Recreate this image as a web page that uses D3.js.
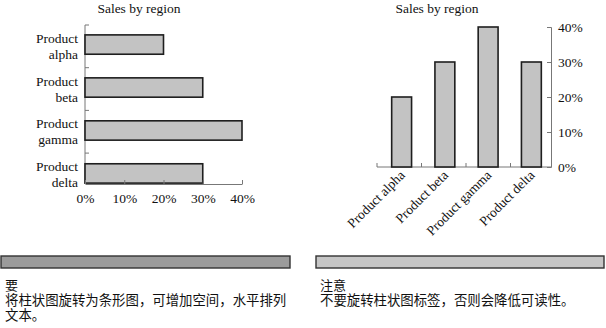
<!DOCTYPE html>
<html>
<head>
<meta charset="utf-8">
<script src="https://cdn.jsdelivr.net/npm/d3@7"></script>
<style>
  body { margin: 0; background: #fff; }
  svg text { font-family: "Liberation Serif", "Times New Roman", serif; fill: #111; }
  svg .cjk { font-family: "Noto Sans CJK SC", sans-serif; }
</style>
</head>
<body>
<div id="chart-area"></div>
<script>
// data
let products = ["Product alpha", "Product beta", "Product gamma", "Product delta"];
let shares = [0.20, 0.30, 0.40, 0.30];
let pctTicks = [0, 0.1, 0.2, 0.3, 0.4];
let chartTitle = "Sales by region";
let leftHead = "要";
let leftBody = ["将柱状图旋转为条形图，可增加空间，水平排列", "文本。"];
let rightHead = "注意";
let rightBody = ["不要旋转柱状图标签，否则会降低可读性。"];

let data = products.map((p, i) => ({name: p, value: shares[i]}));
let fmt = d3.format(".0%");

let svg = d3.select("#chart-area").append("svg")
    .attr("width", 606)
    .attr("height", 328);

let barFill = "#c3c3c3", barStroke = "#1e1e1e", axisColor = "#777";

// ---------- left: horizontal bars ----------
let left = svg.append("g");

let xH = d3.scaleLinear().domain([0, 0.4]).range([85, 242]);
let yH = d3.scaleBand().domain(products).range([22, 196]).paddingInner(0.55).paddingOuter(0.3);
let baseY = 184;

left.append("text")
    .attr("x", 139).attr("y", 13)
    .attr("text-anchor", "middle")
    .style("font-size", "13.5px")
    .text(chartTitle);

// y axis line and ticks at band starts
left.append("line")
    .attr("x1", 85).attr("x2", 85)
    .attr("y1", 25).attr("y2", baseY)
    .attr("stroke", axisColor);

left.selectAll(".ytick")
    .data(products)
    .enter().append("line")
    .attr("class", "ytick")
    .attr("x1", 85).attr("x2", 89)
    .attr("y1", (d, i) => 25 + i * 42.7)
    .attr("y2", (d, i) => 25 + i * 42.7)
    .attr("stroke", axisColor);

left.selectAll(".hbar")
    .data(data)
    .enter().append("rect")
    .attr("class", "hbar")
    .attr("x", xH(0))
    .attr("y", d => yH(d.name))
    .attr("width", d => xH(d.value) - xH(0))
    .attr("height", yH.bandwidth())
    .attr("fill", barFill)
    .attr("stroke", barStroke)
    .attr("stroke-width", 1.6);

let xAxisH = d3.axisBottom(xH)
    .tickValues(pctTicks)
    .tickFormat(fmt)
    .tickSizeInner(-4)
    .tickSizeOuter(0)
    .tickPadding(9);

let xGroupH = left.append("g")
    .attr("transform", `translate(0,${baseY})`)
    .call(xAxisH);
xGroupH.selectAll("path, line").attr("stroke", axisColor);
xGroupH.selectAll("text")
    .style("font-size", "13.5px")
    .style("font-family", "Liberation Serif, serif")
    .attr("fill", "#111");

// two-line category labels
left.selectAll(".ylab")
    .data(data)
    .enter().append("text")
    .attr("class", "ylab")
    .attr("text-anchor", "end")
    .style("font-size", "13.5px")
    .each(function (d) {
        let parts = d.name.split(" ");
        let cy = yH(d.name) + yH.bandwidth() / 2;
        d3.select(this).selectAll("tspan")
            .data(parts)
            .enter().append("tspan")
            .attr("x", 78)
            .attr("y", (p, j) => cy - 2 + j * 16)
            .text(p => p);
    });

// ---------- right: vertical bars ----------
let right = svg.append("g");

let xV = d3.scaleBand().domain(products).range([380, 553]).paddingInner(0.54).paddingOuter(0.27);
let yV = d3.scaleLinear().domain([0, 0.4]).range([167, 27]);
let axisX = 551;

right.append("text")
    .attr("x", 437).attr("y", 13)
    .attr("text-anchor", "middle")
    .style("font-size", "13.5px")
    .text(chartTitle);

// baseline with ticks between categories
right.append("line")
    .attr("x1", 377).attr("x2", axisX)
    .attr("y1", yV(0)).attr("y2", yV(0))
    .attr("stroke", axisColor);

right.selectAll(".xtick")
    .data(products)
    .enter().append("line")
    .attr("class", "xtick")
    .attr("x1", (d, i) => 377 + i * 44.5)
    .attr("x2", (d, i) => 377 + i * 44.5)
    .attr("y1", yV(0)).attr("y2", yV(0) - 4)
    .attr("stroke", axisColor);

right.selectAll(".vbar")
    .data(data)
    .enter().append("rect")
    .attr("class", "vbar")
    .attr("x", d => xV(d.name))
    .attr("y", d => yV(d.value))
    .attr("width", xV.bandwidth())
    .attr("height", d => yV(0) - yV(d.value))
    .attr("fill", barFill)
    .attr("stroke", barStroke)
    .attr("stroke-width", 1.6);

let yAxisV = d3.axisRight(yV)
    .tickValues(pctTicks)
    .tickFormat(fmt)
    .tickSizeInner(-4)
    .tickSizeOuter(-4)
    .tickPadding(7);

let yGroupV = right.append("g")
    .attr("transform", `translate(${axisX},0)`)
    .call(yAxisV);
yGroupV.selectAll("path, line").attr("stroke", axisColor);
yGroupV.selectAll("text")
    .style("font-size", "13.5px")
    .style("font-family", "Liberation Serif, serif")
    .attr("fill", "#111");

// rotated category labels
right.selectAll(".xlab")
    .data(data)
    .enter().append("text")
    .attr("class", "xlab")
    .attr("text-anchor", "end")
    .style("font-size", "13.5px")
    .attr("transform", d => `translate(${xV(d.name) + xV.bandwidth() / 2 + 4},${yV(0) + 9}) rotate(-45)`)
    .text(d => d.name);

// ---------- bottom notes ----------
let notes = [
    {x: 1, w: 289, fill: "#9b9b9b", head: leftHead, body: leftBody, tx: 5},
    {x: 316, w: 288, fill: "#c6c6c6", head: rightHead, body: rightBody, tx: 320}
];

let note = svg.selectAll(".note")
    .data(notes)
    .enter().append("g")
    .attr("class", "note");

note.append("rect")
    .attr("x", d => d.x)
    .attr("y", 256)
    .attr("width", d => d.w)
    .attr("height", 12)
    .attr("fill", d => d.fill)
    .attr("stroke", "#333")
    .attr("stroke-width", 1.4);

note.append("text")
    .attr("class", "cjk")
    .attr("x", d => d.tx)
    .attr("y", 290)
    .style("font-size", "13px")
    .text(d => d.head);

note.each(function (d) {
    d3.select(this).selectAll(".line")
        .data(d.body)
        .enter().append("text")
        .attr("class", "cjk line")
        .attr("x", d.tx)
        .attr("y", (t, i) => 305 + i * 15)
        .style("font-size", "13.4px")
        .text(t => t);
});
</script>
</body>
</html>
